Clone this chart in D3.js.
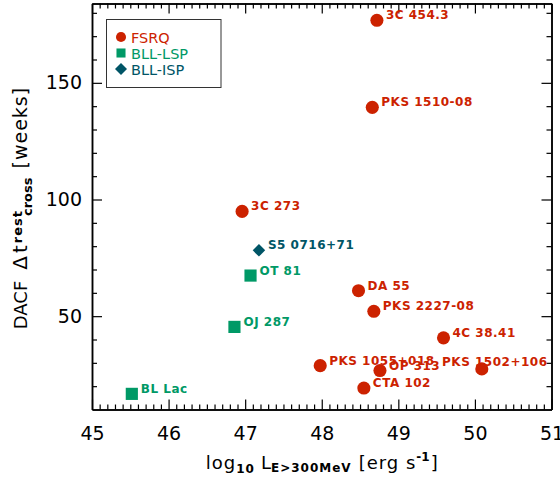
<!DOCTYPE html>
<html>
<head>
<meta charset="utf-8">
<script src="https://cdn.jsdelivr.net/npm/d3@7"></script>
<style>
  body { margin: 0; background: #fff; }
  svg { display: block; font-family: "DejaVu Sans", sans-serif; }
</style>
</head>
<body>
<div id="chart"></div>
<script>
// values
const fsrqNames = ["3C 454.3", "PKS 1510-08", "3C 273", "DA 55", "PKS 2227-08", "4C 38.41",
  "PKS 1055+018", "OP 313", "CTA 102", "PKS 1502+106"];
const fsrqLum = [48.72, 48.66, 46.96, 48.48, 48.68, 49.59, 47.98, 48.76, 48.55, 50.09];
const fsrqWeeks = [176.8, 139.5, 94.9, 60.9, 52.1, 40.7, 28.8, 26.7, 19.2, 27.4];

const lspNames = ["OT 81", "OJ 287", "BL Lac"];
const lspLum = [47.07, 46.86, 45.52];
const lspWeeks = [67.4, 45.4, 16.7];

const ispNames = ["S5 0716+71"];
const ispLum = [47.18];
const ispWeeks = [78.2];

const classNames = ["FSRQ", "BLL-LSP", "BLL-ISP"];
const xTicks = [45, 46, 47, 48, 49, 50, 51];
const yTicks = [50, 100, 150];

const colors = { "FSRQ": "#cc2200", "BLL-LSP": "#009966", "BLL-ISP": "#005566" };

const W = 560, H = 479;
const mLeft = 92, mRight = 551.5, mTop = 3.5, mBottom = 409.5;

const x = d3.scaleLinear().domain([45, 51]).range([mLeft, mRight]);
const y = d3.scaleLinear().domain([10, 184]).range([mBottom, mTop]);

const svg = d3.select("#chart").append("svg")
  .attr("width", W)
  .attr("height", H);

// axes: major + minor ticks, pointing inward, on all four sides
const xMinor = d3.range(450, 511).map(v => v / 10).filter(v => Math.abs(v - Math.round(v)) > 1e-6);
const yMinor = d3.range(20, 184, 10).filter(v => !yTicks.includes(v));

function styleAxis(g) {
  g.select(".domain").attr("stroke", "#000").attr("stroke-width", 1.5);
  g.selectAll(".tick line").attr("stroke", "#000").attr("stroke-width", 1.2);
  g.selectAll("text").attr("fill", "#000").attr("font-size", 19)
    .attr("font-family", "DejaVu Sans, sans-serif");
}

svg.append("g").attr("transform", `translate(0,${mBottom})`)
  .call(d3.axisBottom(x).tickValues(xMinor).tickSize(-5).tickSizeOuter(0).tickFormat(""))
  .call(styleAxis);
svg.append("g").attr("transform", `translate(0,${mBottom})`)
  .call(d3.axisBottom(x).tickValues(xTicks).tickSize(-10).tickSizeOuter(0).tickPadding(17).tickFormat(d3.format("d")))
  .call(styleAxis);
svg.append("g").attr("transform", `translate(0,${mTop})`)
  .call(d3.axisTop(x).tickValues(xMinor).tickSize(-5).tickSizeOuter(0).tickFormat(""))
  .call(styleAxis);
svg.append("g").attr("transform", `translate(0,${mTop})`)
  .call(d3.axisTop(x).tickValues(xTicks).tickSize(-10).tickSizeOuter(0).tickFormat(""))
  .call(styleAxis);

svg.append("g").attr("transform", `translate(${mLeft},0)`)
  .call(d3.axisLeft(y).tickValues(yMinor).tickSize(-5).tickSizeOuter(0).tickFormat(""))
  .call(styleAxis);
svg.append("g").attr("transform", `translate(${mLeft},0)`)
  .call(d3.axisLeft(y).tickValues(yTicks).tickSize(-10).tickSizeOuter(0).tickPadding(10).tickFormat(d3.format("d")))
  .call(styleAxis);
svg.append("g").attr("transform", `translate(${mRight},0)`)
  .call(d3.axisRight(y).tickValues(yMinor).tickSize(-5).tickSizeOuter(0).tickFormat(""))
  .call(styleAxis);
svg.append("g").attr("transform", `translate(${mRight},0)`)
  .call(d3.axisRight(y).tickValues(yTicks).tickSize(-10).tickSizeOuter(0).tickFormat(""))
  .call(styleAxis);

// markers
const symbols = {
  "FSRQ": { type: d3.symbolCircle, area: 135, rot: 0 },
  "BLL-LSP": { type: d3.symbolSquare, area: 148, rot: 0 },
  "BLL-ISP": { type: d3.symbolSquare, area: 78, rot: 45 }
};

const points = [];
fsrqNames.forEach((n, i) => points.push({ name: n, lum: fsrqLum[i], weeks: fsrqWeeks[i], cls: "FSRQ" }));
lspNames.forEach((n, i) => points.push({ name: n, lum: lspLum[i], weeks: lspWeeks[i], cls: "BLL-LSP" }));
ispNames.forEach((n, i) => points.push({ name: n, lum: ispLum[i], weeks: ispWeeks[i], cls: "BLL-ISP" }));

const pg = svg.append("g");
points.forEach(p => {
  const s = symbols[p.cls];
  const px = x(p.lum), py = y(p.weeks);
  pg.append("path")
    .attr("d", d3.symbol(s.type, s.area)())
    .attr("transform", `translate(${px},${py}) rotate(${s.rot})`)
    .attr("fill", colors[p.cls]);
  const t = pg.append("text")
    .attr("x", px + 9)
    .attr("y", py - 1)
    .attr("fill", colors[p.cls])
    .attr("font-size", 12)
    .attr("font-weight", "bold")
    .attr("letter-spacing", 0.5)
    .text(p.name);
  // labels that would run past the frame are pulled back inside
  const w = t.node().getComputedTextLength();
  if (px + 9 + w > mRight - 3) {
    t.attr("x", mRight - 4).attr("text-anchor", "end").attr("y", py - 3);
  }
});

// legend
const lg = svg.append("g");
lg.append("rect")
  .attr("x", 106.5).attr("y", 19.5)
  .attr("width", 114.5).attr("height", 68)
  .attr("fill", "#fff").attr("stroke", "#333").attr("stroke-width", 1);
const legendSyms = { "FSRQ": 80, "BLL-LSP": 82, "BLL-ISP": 72 };
classNames.forEach((c, i) => {
  const cy = 37 + i * 16;
  const s = symbols[c];
  lg.append("path")
    .attr("d", d3.symbol(s.type, legendSyms[c])())
    .attr("transform", `translate(121,${cy}) rotate(${s.rot})`)
    .attr("fill", colors[c]);
  lg.append("text")
    .attr("x", 131).attr("y", cy + 5.6)
    .attr("fill", colors[c])
    .attr("font-size", 14.5)
    .text(c);
});

// x title
const xt = svg.append("text")
  .attr("x", (mLeft + mRight) / 2)
  .attr("y", 469)
  .attr("text-anchor", "middle")
  .attr("font-size", 18)
  .attr("fill", "#000");
xt.append("tspan").attr("letter-spacing", 1).text("log");
xt.append("tspan").attr("font-size", 12).attr("font-weight", "bold").attr("letter-spacing", 1).attr("dy", 4).text("10");
xt.append("tspan").attr("dx", 6).attr("dy", -4).text("L");
xt.append("tspan").attr("font-size", 12).attr("font-weight", "bold").attr("letter-spacing", 1).attr("dy", 3).text("E>300MeV");
xt.append("tspan").attr("dx", 7).attr("dy", -3).attr("letter-spacing", 1).text("[erg s");
xt.append("tspan").attr("font-size", 12).attr("font-weight", "bold").attr("dy", -8).text("-1");
xt.append("tspan").attr("dx", 1).attr("dy", 8).text("]");

// y title
const yt = svg.append("text")
  .attr("transform", "translate(27,208) rotate(-90)")
  .attr("text-anchor", "middle")
  .attr("font-size", 18)
  .attr("fill", "#000");
yt.append("tspan").text("DACF");
yt.append("tspan").attr("dx", 11).attr("font-size", 20).attr("letter-spacing", 3).text("Δt");
yt.append("tspan").attr("font-size", 13).attr("font-weight", "bold").attr("letter-spacing", 1).attr("dx", -1).attr("dy", -5.5).text("rest");
yt.append("tspan").attr("font-size", 13).attr("font-weight", "bold").attr("dx", -6).attr("dy", 10.5).text("cross");
yt.append("tspan").attr("font-size", 19).attr("letter-spacing", 1).attr("dx", 9).attr("dy", -5).text("[weeks]");
</script>
</body>
</html>
